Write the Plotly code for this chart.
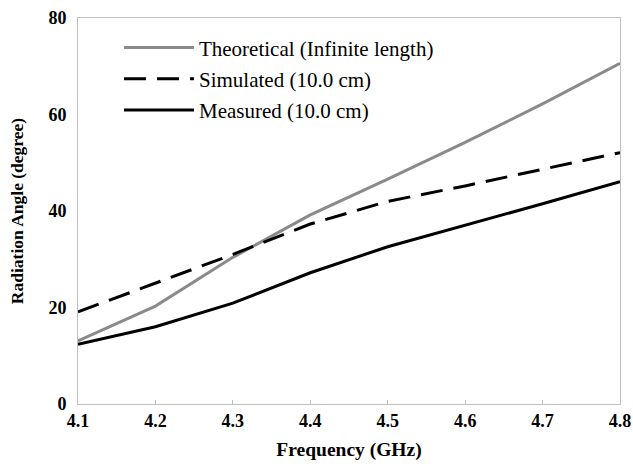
import plotly.graph_objects as go

freq = [4.1, 4.2, 4.3, 4.4, 4.5, 4.6, 4.7, 4.8]
theoretical = [13.1, 20.3, 30.4, 39.2, 46.6, 54.2, 62.2, 70.6]
simulated = [19.1, 25.1, 31.0, 37.3, 42.0, 45.2, 48.6, 52.1]
measured = [12.4, 16.0, 20.9, 27.2, 32.6, 37.0, 41.5, 46.1]

FONT = "'Liberation Serif', 'Times New Roman', serif"

fig = go.Figure()
fig.add_trace(go.Scatter(x=freq, y=theoretical, mode="lines",
                         name="Theoretical (Infinite length)", legendgroup="a",
                         line=dict(color="#8a8a8a", width=3)))
fig.add_trace(go.Scatter(x=freq, y=simulated, mode="lines",
                         name="Simulated (10.0 cm)", legendgroup="b",
                         line=dict(color="#000000", width=3, dash="22px,11px")))
fig.add_trace(go.Scatter(x=freq, y=measured, mode="lines",
                         name="Measured (10.0 cm)", legendgroup="c",
                         line=dict(color="#000000", width=3)))

fig.update_layout(
    width=633, height=464,
    margin=dict(l=78, r=13, t=18, b=60),
    paper_bgcolor="white", plot_bgcolor="white",
    font=dict(family=FONT, color="black"),
    showlegend=True,
    legend=dict(x=0.0756, y=0.976, xanchor="left", yanchor="top",
                bgcolor="rgba(0,0,0,0)", font=dict(family=FONT, size=21),
                itemwidth=70, traceorder="grouped", tracegroupgap=1),
    xaxis=dict(range=[4.1, 4.8], tickvals=freq,
               ticktext=[f"{v:.1f}" for v in freq],
               showgrid=False, zeroline=False, automargin=False,
               showline=True, linecolor="#bfbfbf", linewidth=1, mirror=True,
               ticks="inside", ticklen=4, tickcolor="#bfbfbf",
               tickfont=dict(family=FONT, size=18, color="black", weight="bold"),
               title=dict(text="<b>Frequency (GHz)</b>",
                          font=dict(family=FONT, size=19.5), standoff=12)),
    yaxis=dict(range=[0, 80], tickvals=[0, 20, 40, 60, 80],
               showgrid=False, zeroline=False, automargin=False,
               showline=True, linecolor="#bfbfbf", linewidth=1, mirror=True,
               ticks="", ticklabelstandoff=7,
               tickfont=dict(family=FONT, size=18, color="black", weight="bold"),
               title=dict(text="<b>Radiation Angle (degree)</b>",
                          font=dict(family=FONT, size=17.5), standoff=20)),
)

fig.write_html("out.html")
